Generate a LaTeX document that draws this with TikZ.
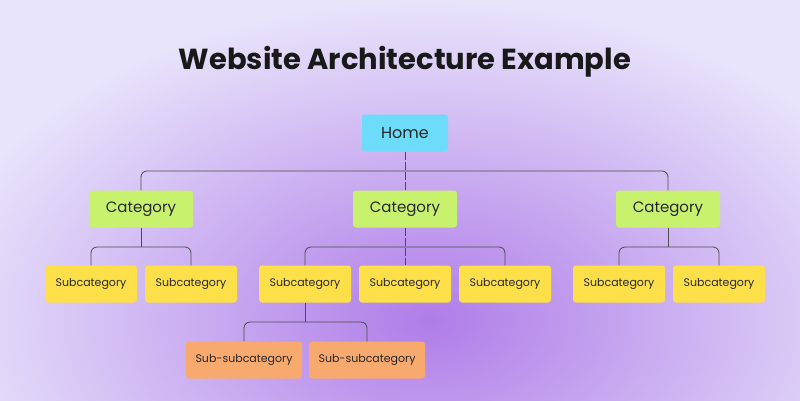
\documentclass[tikz,border=0pt]{standalone}
\usepackage{fontspec}
\setmainfont{Poppins}
\begin{document}
\begin{tikzpicture}[x=1pt,y=-1pt,
  box/.style={rounded corners=3pt,minimum height=37pt,text=black!85,inner sep=0pt},
  homebox/.style={box,fill=homec,minimum width=86pt,font=\fontsize{16}{18}\selectfont},
  catbox/.style={box,fill=catc,minimum width=104pt,font=\fontsize{15}{18}\selectfont},
  subbox/.style={box,fill=subc,minimum width=92pt,font=\fontsize{11}{13}\selectfont},
  ssbox/.style={box,fill=ssc,minimum width=116pt,font=\fontsize{11}{13}\selectfont},
  link/.style={draw=black!70,line width=0.8pt,rounded corners=6pt},
  clink/.style={link,dash pattern=on 8pt off 2pt}]
\definecolor{bgl}{HTML}{E8E4FB}
\definecolor{bgp}{HTML}{B07DE8}
\definecolor{homec}{HTML}{6DDCFA}
\definecolor{catc}{HTML}{C8F26E}
\definecolor{subc}{HTML}{FDDF4A}
\definecolor{ssc}{HTML}{F8AA6E}
\useasboundingbox (0,0) rectangle (800,400);
\fill[bgl] (0,0) rectangle (800,400);
\begin{scope}
\clip (0,0) rectangle (800,400);
\shade[inner color=bgp,outer color=bgl] (430,320) ellipse (500 and 320);
\end{scope}
\node[font=\fontsize{29}{32}\selectfont\bfseries,text=black!90] (title) at (405,62) {Website Architecture Example};
\node[homebox] (home) at (405,133) {Home};
\node[catbox] (c1) at (141,209) {Category};
\node[catbox] (c2) at (405,209) {Category};
\node[catbox] (c3) at (668,209) {Category};
\node[subbox] (s1) at (91,284) {Subcategory};
\node[subbox] (s2) at (191,284) {Subcategory};
\node[subbox] (s3) at (305,284) {Subcategory};
\node[subbox] (s4) at (405,284) {Subcategory};
\node[subbox] (s5) at (505,284) {Subcategory};
\node[subbox] (s6) at (619,284) {Subcategory};
\node[subbox] (s7) at (719,284) {Subcategory};
\node[ssbox] (t1) at (244,360) {Sub-subcategory};
\node[ssbox] (t2) at (367,360) {Sub-subcategory};
\coordinate (b0) at (405,171);
\coordinate (b1) at (141,247);
\coordinate (b2) at (405,247);
\coordinate (b3) at (668,247);
\coordinate (b4) at (305,322);
\draw[clink] (home.south) -- (c2.north);
\draw[link] (c1.north) |- (b0) -| (c3.north);
\draw[link] (c1.south) -- (b1);
\draw[link] (s1.north) |- (b1) -| (s2.north);
\draw[clink] (c2.south) -- (s4.north);
\draw[link] (s3.north) |- (b2) -| (s5.north);
\draw[link] (c3.south) -- (b3);
\draw[link] (s6.north) |- (b3) -| (s7.north);
\draw[link] (s3.south) -- (b4);
\draw[link] (t1.north) |- (b4) -| (t2.north);
\end{tikzpicture}
\end{document}
